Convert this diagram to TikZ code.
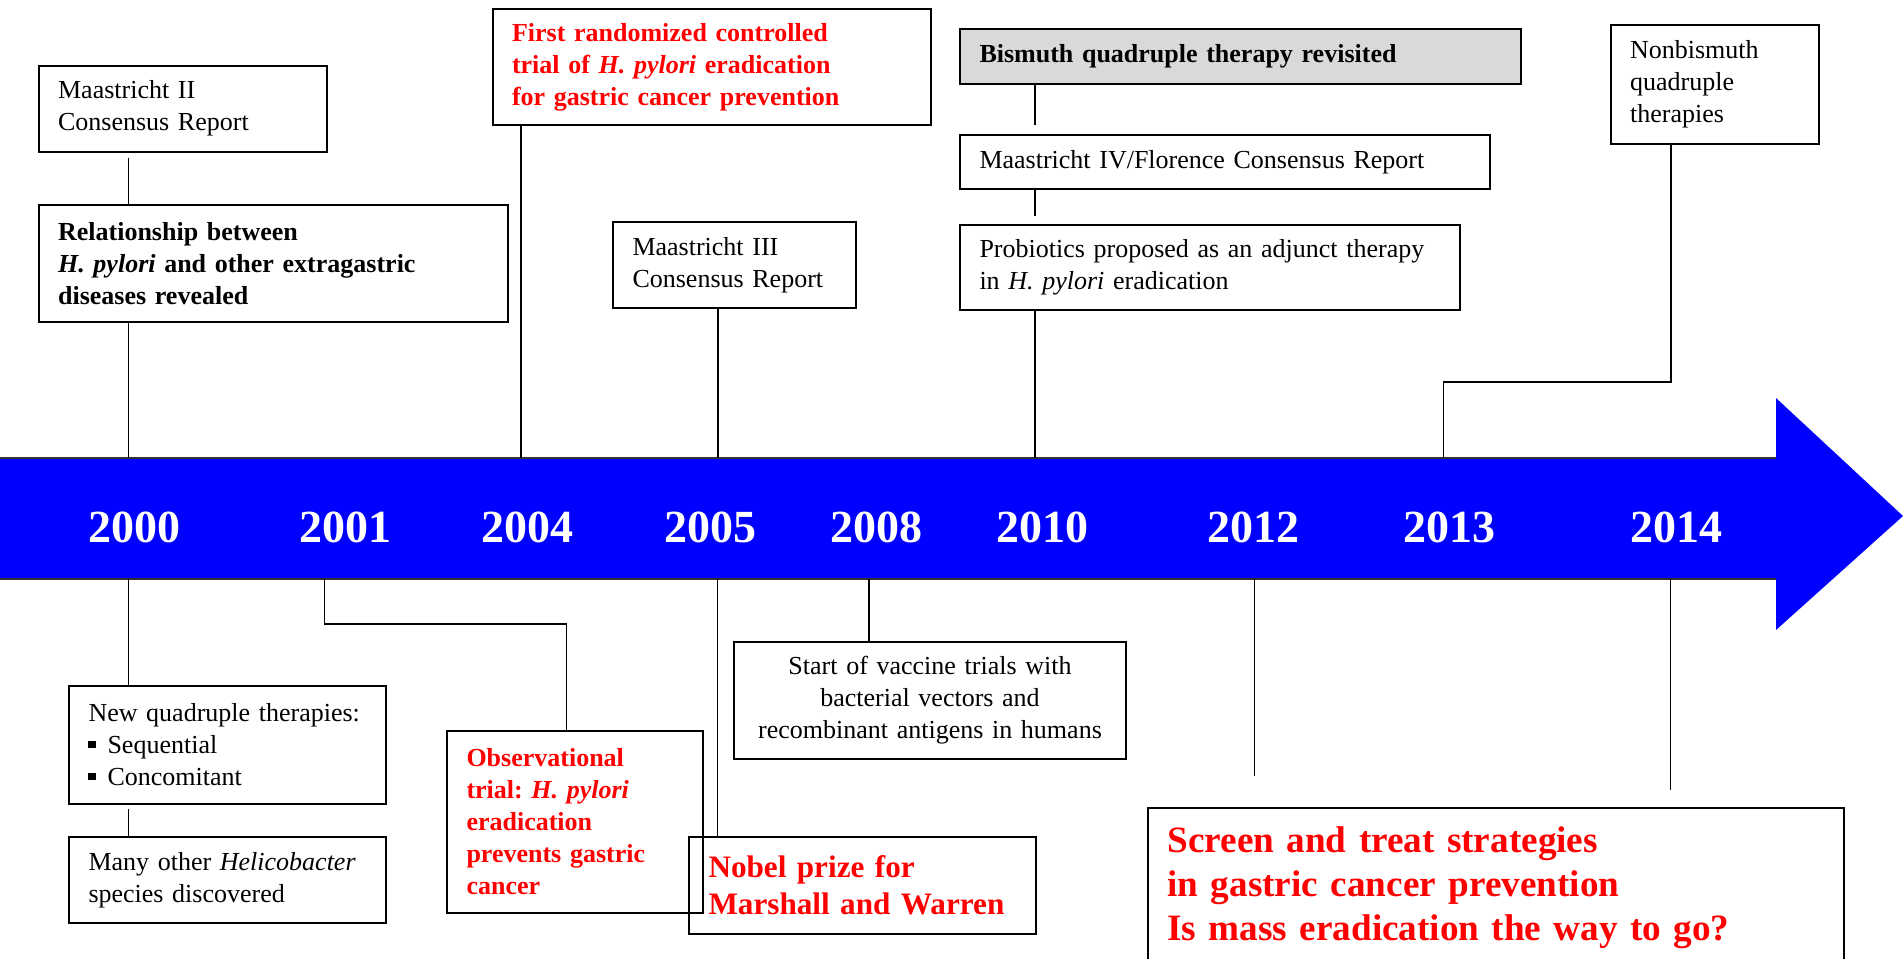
\documentclass[tikz,border=0pt]{standalone}
\usepackage{fontspec}
\setmainfont{Liberation Serif}
\definecolor{bandblue}{RGB}{0,0,255}
\definecolor{boxgrey}{RGB}{217,217,217}

\begin{document}
\frenchspacing
\begin{tikzpicture}[x=0.5pt, y=-0.5pt,
    evbox/.style={draw, line width=1pt, anchor=north west, inner xsep=9.75pt, inner ysep=0pt,
      align=left, font=\fontsize{13}{16}\selectfont},
    hot/.style={text=red, font=\fontsize{13}{16}\selectfont\bfseries},
    link/.style={line width=0.6pt},
    year/.style={text=white, font=\fontsize{23}{23}\selectfont\bfseries}]
  \useasboundingbox (0,0) rectangle (1903,959);
  \clip (0,0) rectangle (1903,959);

  \fill [bandblue] (0,458) -- (1776,458) -- (1776,398) -- (1903,516) -- (1776,630)
    -- (1776,579) -- (0,579) -- cycle;
  \draw [line width=0.8pt, black!80] (0,458) -- (1776,458) (0,579) -- (1776,579);

  \foreach \yr/\x in {2000/134, 2001/345, 2004/527, 2005/710, 2008/876,
                      2010/1042, 2012/1253, 2013/1449, 2014/1676}
    \node [year] (y\yr) at (\x,527) {\yr};

  \coordinate (a2000) at (128.4,458);
  \coordinate (a2004) at (521,458);
  \coordinate (a2005) at (718,458);
  \coordinate (a2010) at (1035,458);
  \coordinate (a2013) at (1443.6,458);
  \coordinate (k2013) at (1671,382);
  \coordinate (b2000) at (128.4,579);
  \coordinate (b2001) at (324.8,579);
  \coordinate (k2001) at (566.8,624);
  \coordinate (b2005) at (717.6,579);
  \coordinate (b2008) at (869,579);
  \coordinate (b2012) at (1254.6,579);
  \coordinate (e2012) at (1254.6,776);
  \coordinate (b2014) at (1670.4,579);
  \coordinate (e2014) at (1670.4,790);

  \node [evbox, text width=124.5pt, minimum height=43pt] (m2) at (37.6,64.5)
    {Maastricht II\\Consensus Report};
  \node [evbox, text width=215pt, minimum height=58.5pt, font=\fontsize{13}{16}\selectfont\bfseries] (rel) at (37.6,204)
    {Relationship between\\\textit{H. pylori} and other extragastric\\diseases revealed};
  \node [evbox, hot, text width=199.75pt, minimum height=58.3pt] (rct) at (491.5,7.7)
    {First randomized controlled\\trial of \textit{H. pylori} eradication\\for gastric cancer prevention};
  \node [evbox, text width=101.75pt, minimum height=43pt] (m3) at (612,221)
    {Maastricht III\\Consensus Report};
  \node [evbox, fill=boxgrey, text width=260.75pt, minimum height=27.8pt,
    font=\fontsize{13}{16}\selectfont\bfseries] (bis) at (959,27.7)
    {\raisebox{-1.2pt}{Bismuth quadruple therapy revisited}};
  \node [evbox, text width=245.3pt, minimum height=27pt] (m4) at (959,134)
    {\raisebox{-0.6pt}{Maastricht IV/Florence Consensus Report}};
  \node [evbox, text width=230.4pt, minimum height=42.7pt] (pro) at (959,224)
    {Probiotics proposed as an adjunct therapy\\in \textit{H. pylori} eradication};
  \node [evbox, text width=84.7pt, minimum height=59.2pt] (nonb) at (1609.6,24.3)
    {Nonbismuth\\quadruple\\therapies};

  \node [evbox, text width=139pt, minimum height=59pt] (nqt) at (68,684.7)
    {New quadruple therapies:\\\rule[2.6pt]{3.6pt}{3.6pt}\hspace{5.9pt}Sequential\\
     \rule[2.6pt]{3.6pt}{3.6pt}\hspace{5.9pt}Concomitant};
  \node [evbox, text width=139pt, minimum height=42.8pt] (hel) at (68,836)
    {Many other \textit{Helicobacter}\\species discovered};
  \node [evbox, hot, text width=108.5pt, minimum height=91pt] (obs) at (446,729.7)
    {Observational\\trial: \textit{H. pylori}\\eradication\\prevents gastric\\cancer};
  \node [evbox, hot, text width=154.2pt, minimum height=48.7pt, font=\fontsize{15.6}{18.5}\selectfont\bfseries] (nob) at (688,836)
    {Nobel prize for\\Marshall and Warren};
  \node [evbox, align=center, inner xsep=5pt, text width=186pt, minimum height=58.5pt] (vac) at (733,640.7)
    {Start of vaccine trials with\\bacterial vectors and\\recombinant antigens in humans};
  \node [evbox, hot, text width=328.25pt, minimum height=80pt, font=\fontsize{18.6}{21.8}\selectfont\bfseries] (scr) at (1147,806.7)
    {Screen and treat strategies\\in gastric cancer prevention\\Is mass eradication the way to go?};

  \draw [link, shorten <=2.5pt] (m2.south -| a2000) -- (rel.north -| a2000);
  \draw [link] (rel.south -| a2000) -- (a2000);
  \draw [link] (rct.south -| a2004) -- (a2004);
  \draw [link] (m3.south -| a2005) -- (a2005);
  \draw [link, shorten >=4.5pt] (bis.south -| a2010) -- (m4.north -| a2010);
  \draw [link, shorten >=4pt] (m4.south -| a2010) -- (pro.north -| a2010);
  \draw [link] (pro.south -| a2010) -- (a2010);
  \draw [link] (nonb.south -| k2013) -- (k2013) -| (a2013);

  \draw [link] (b2000) -- (nqt.north -| b2000);
  \draw [link, shorten <=2pt] (nqt.south -| b2000) -- (hel.north -| b2000);
  \draw [link] (b2001) |- (k2001) -- (obs.north -| k2001);
  \draw [link] (b2005) -- (nob.north -| b2005);
  \draw [link] (b2008) -- (vac.north -| b2008);
  \draw [link] (b2012) -- (e2012);
  \draw [link] (b2014) -- (e2014);
\end{tikzpicture}
\end{document}
